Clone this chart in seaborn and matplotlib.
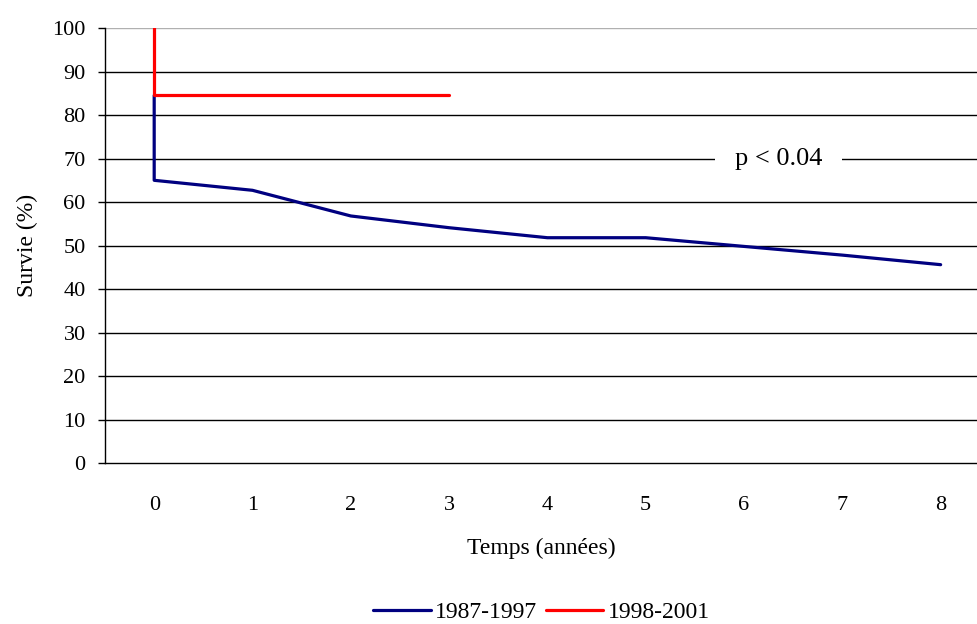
import pandas as pd
import matplotlib.pyplot as plt
import seaborn as sns

# courbes de survie
temps_8797 = [0, 0, 1, 2, 3, 4, 5, 6, 7, 8]
survie_8797 = [84.5, 65.0, 62.7, 56.8, 54.1, 51.8, 51.8, 49.8, 47.8, 45.6]
temps_9801 = [0, 0, 3]
survie_9801 = [100, 84.5, 84.5]
periodes = ['1987-1997', '1998-2001']
couleurs = ['#000080', '#FF0000']
x_ticks = [0, 1, 2, 3, 4, 5, 6, 7, 8]
y_ticks = [0, 10, 20, 30, 40, 50, 60, 70, 80, 90, 100]

df = pd.concat([
    pd.DataFrame({'temps': temps_8797, 'survie': survie_8797, 'periode': periodes[0]}),
    pd.DataFrame({'temps': temps_9801, 'survie': survie_9801, 'periode': periodes[1]}),
])

sns.set_style('white')
plt.rcParams['font.family'] = ['Liberation Serif', 'DejaVu Serif']
plt.rcParams['text.color'] = 'black'
plt.rcParams['axes.labelcolor'] = 'black'
plt.rcParams['xtick.color'] = 'black'
plt.rcParams['ytick.color'] = 'black'

fig = plt.figure(figsize=(9.78, 6.24), dpi=100)
ax = fig.add_axes([0.1074, 0.258, 0.8926, 0.697])

sns.lineplot(data=df, x='temps', y='survie', hue='periode', palette=couleurs,
             sort=False, estimator=None, linewidth=2.3, ax=ax)

ax.set_xlim(-0.5, 8.38)
ax.set_ylim(0, 100)
ax.set_xticks(x_ticks)
ax.set_yticks(y_ticks)
ax.tick_params(axis='x', length=0, pad=24, labelsize=16)
ax.tick_params(axis='y', length=5, width=1, direction='out', left=True,
               pad=9, labelsize=16)
for y in y_ticks[1:]:
    ax.axhline(y, color='#b0b0b0' if y == 100 else 'black', linewidth=1, zorder=0)

for s in ['top', 'right']:
    ax.spines[s].set_visible(False)
for s in ['left', 'bottom']:
    ax.spines[s].set_color('black')
    ax.spines[s].set_linewidth(1)

ax.set_xlabel('Temps (années)', fontsize=17, labelpad=16)
ax.set_ylabel('Survie (%)', fontsize=17, labelpad=10)

ax.text(6.35, 70, 'p < 0.04', fontsize=19, ha='center', va='center',
        bbox=dict(facecolor='white', edgecolor='none', pad=14))

ax.legend(loc='center', bbox_to_anchor=(0.5, -0.343), ncol=2, frameon=False,
          fontsize=17, handlelength=2.45, handletextpad=0.2, columnspacing=0.35)

fig.savefig('out.png', dpi=100)
